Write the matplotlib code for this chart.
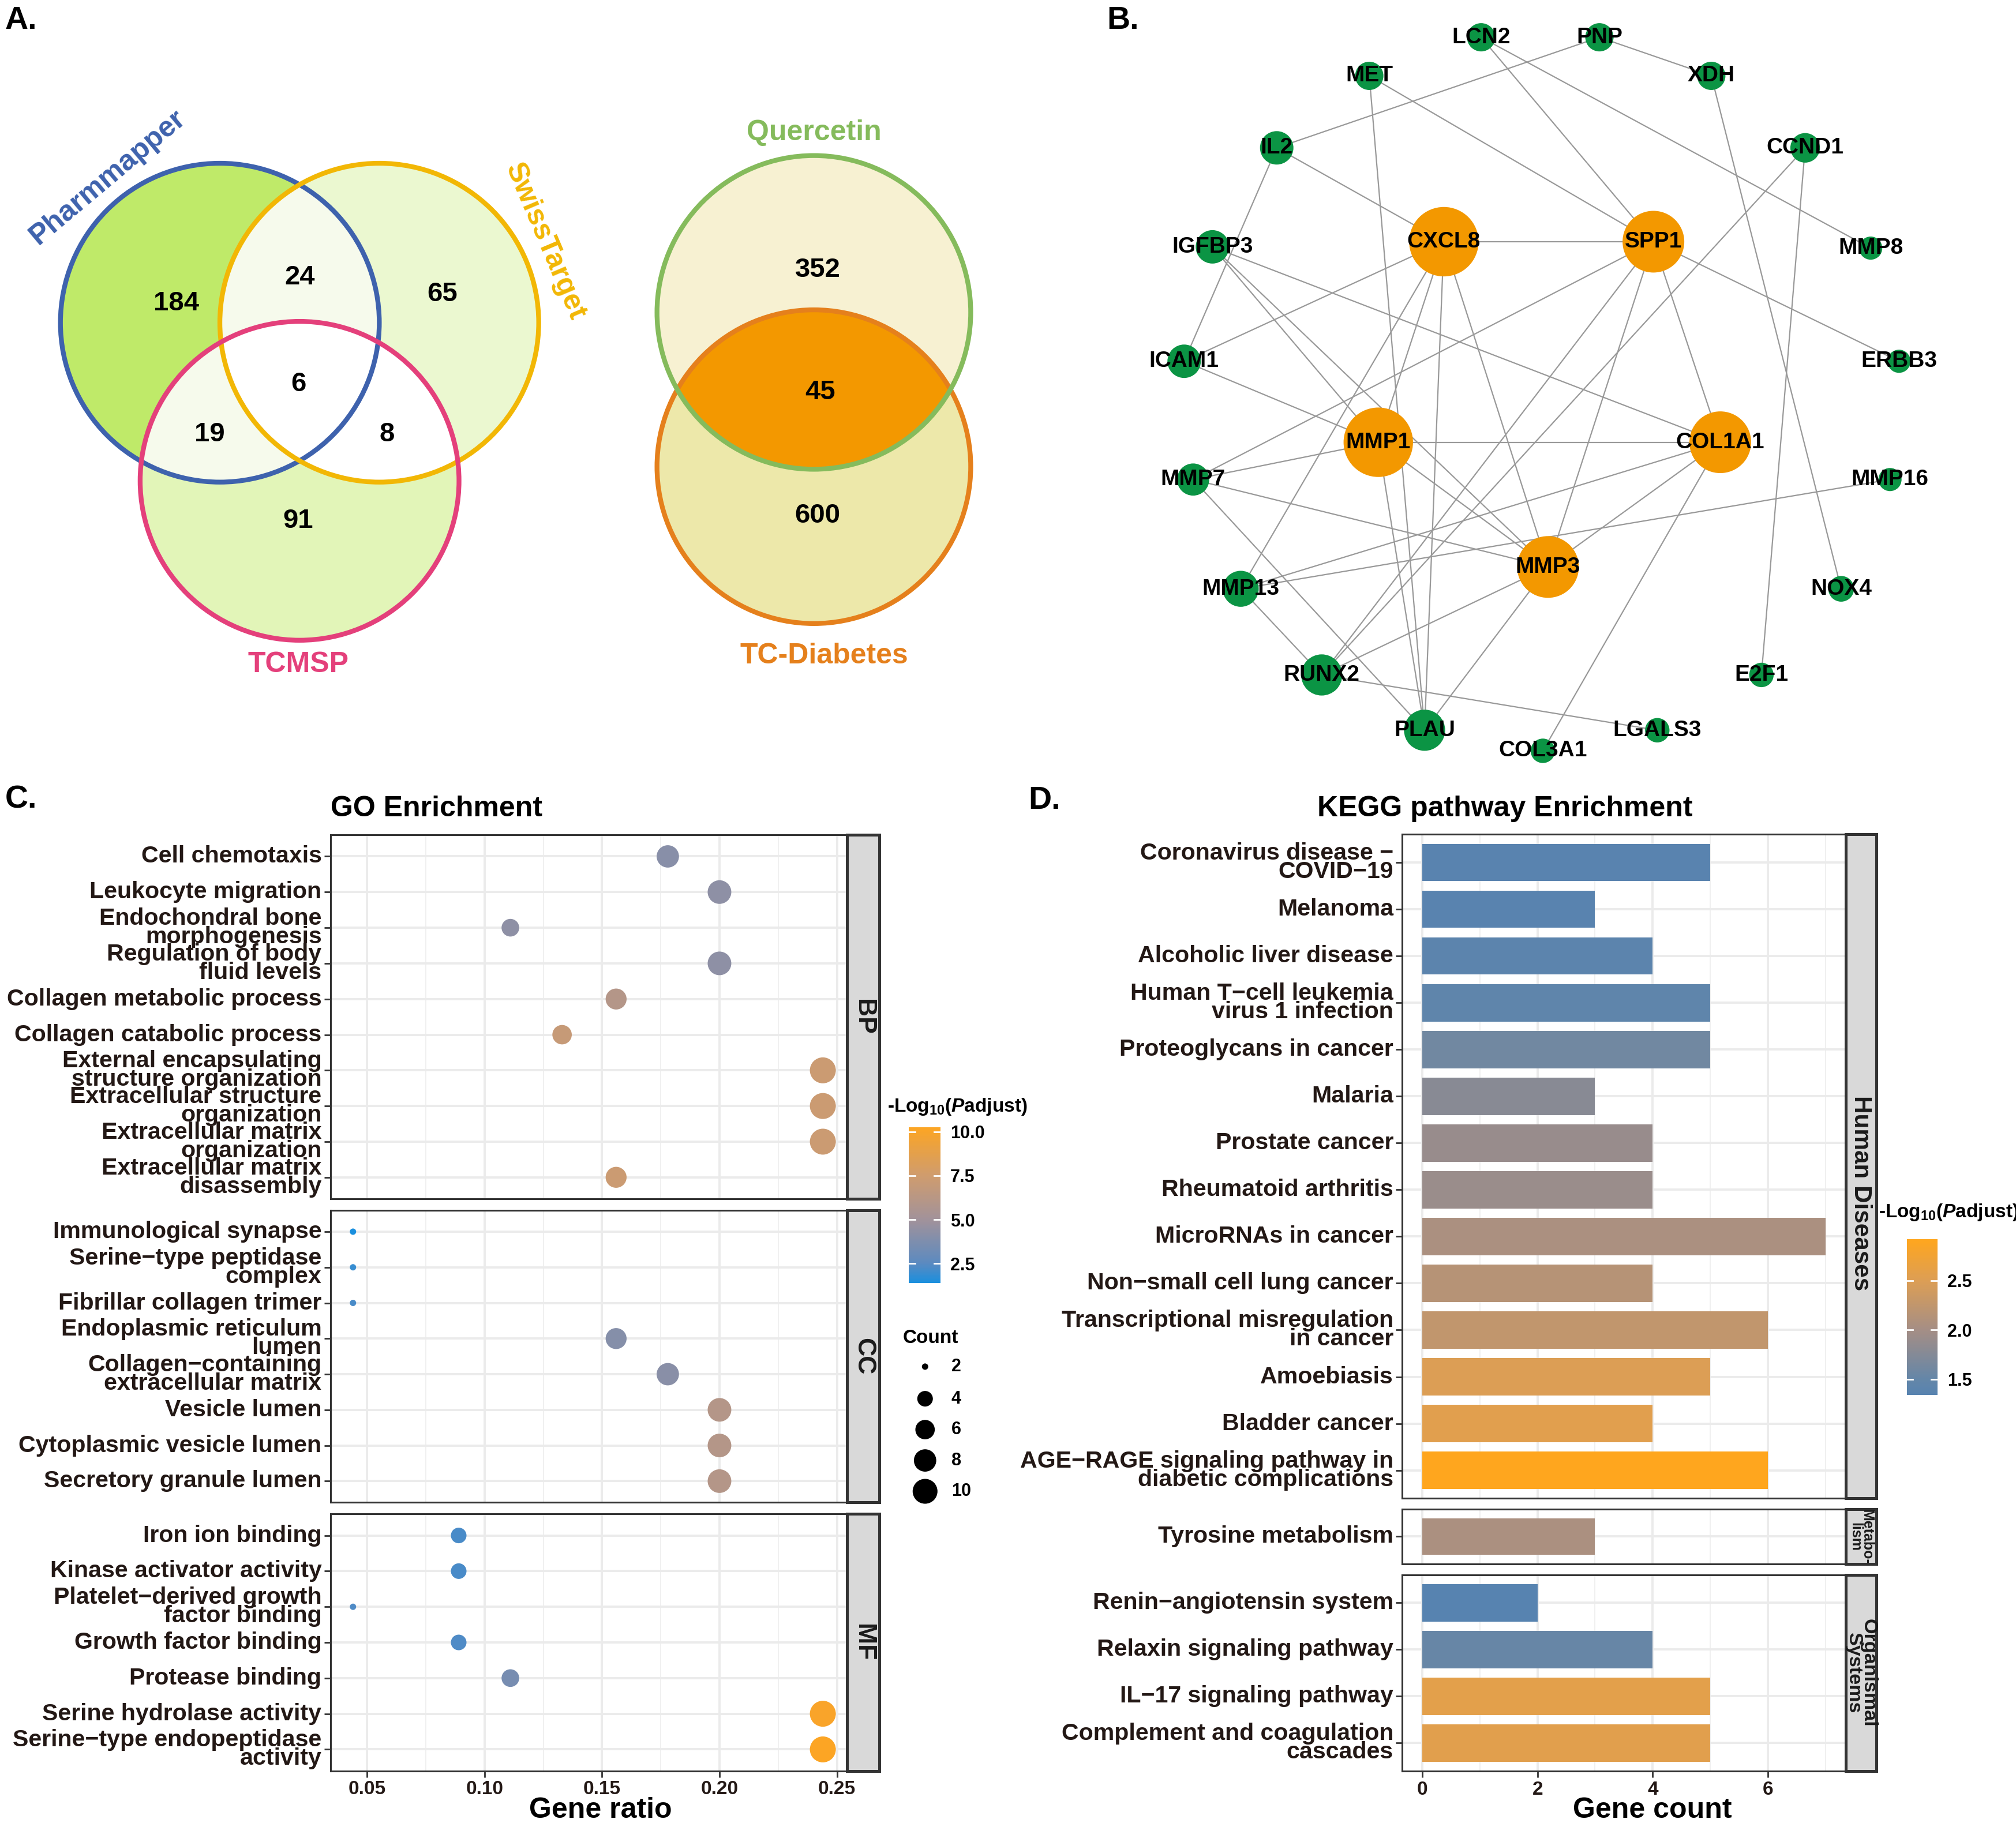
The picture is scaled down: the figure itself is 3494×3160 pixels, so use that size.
import numpy as np
import matplotlib
matplotlib.use("Agg")
import matplotlib.pyplot as plt
from matplotlib.patches import Circle
from matplotlib.colors import LinearSegmentedColormap, Normalize

plt.rcParams["font.family"] = ["Liberation Sans", "DejaVu Sans"]
plt.rcParams["mathtext.fontset"] = "custom"
plt.rcParams["mathtext.rm"] = "Liberation Sans:bold"
plt.rcParams["mathtext.it"] = "Liberation Sans:italic:bold"
plt.rcParams["mathtext.bf"] = "Liberation Sans:bold"

# ---- Data: Venn counts ----
venn3_names = ["Pharmmapper", "SwissTarget", "TCMSP"]
venn3_counts = {"100": 184, "110": 24, "010": 65, "111": 6, "101": 19, "011": 8, "001": 91}
venn2_names = ["Quercetin", "TC-Diabetes"]
venn2_counts = {"10": 352, "11": 45, "01": 600}

# ---- Data: PPI network ----
hub_genes = ["CXCL8", "SPP1", "MMP1", "COL1A1", "MMP3"]
other_genes = ["LCN2", "PNP", "MET", "XDH", "IL2", "CCND1", "IGFBP3", "MMP8", "ICAM1",
               "ERBB3", "MMP7", "MMP16", "MMP13", "NOX4", "RUNX2", "E2F1", "PLAU",
               "LGALS3", "COL3A1"]
edges = [
    ("PNP", "XDH"), ("PNP", "IL2"), ("LCN2", "SPP1"), ("LCN2", "MMP8"), ("MET", "SPP1"),
    ("MET", "PLAU"), ("XDH", "NOX4"), ("IL2", "CXCL8"), ("IL2", "ICAM1"), ("CCND1", "RUNX2"),
    ("CCND1", "E2F1"), ("IGFBP3", "MMP1"), ("IGFBP3", "MMP3"), ("IGFBP3", "COL1A1"),
    ("CXCL8", "SPP1"), ("CXCL8", "ICAM1"), ("CXCL8", "MMP1"), ("CXCL8", "MMP13"),
    ("CXCL8", "PLAU"), ("CXCL8", "MMP3"), ("SPP1", "ERBB3"), ("SPP1", "MMP7"),
    ("SPP1", "RUNX2"), ("SPP1", "MMP3"), ("SPP1", "COL1A1"), ("COL1A1", "MMP1"),
    ("COL1A1", "MMP13"), ("COL1A1", "MMP3"), ("COL1A1", "COL3A1"), ("MMP1", "ICAM1"),
    ("MMP1", "MMP7"), ("MMP1", "MMP3"), ("MMP1", "PLAU"), ("MMP7", "MMP3"), ("MMP7", "PLAU"),
    ("MMP13", "MMP16"), ("MMP13", "RUNX2"), ("MMP3", "RUNX2"), ("MMP3", "PLAU"),
    ("RUNX2", "LGALS3"),
]

# ---- Data: GO enrichment (top to bottom within each facet) ----
go_bp_terms = ["Cell chemotaxis", "Leukocyte migration", "Endochondral bone\nmorphogenesis",
               "Regulation of body\nfluid levels", "Collagen metabolic process",
               "Collagen catabolic process", "External encapsulating\nstructure organization",
               "Extracellular structure\norganization", "Extracellular matrix\norganization",
               "Extracellular matrix\ndisassembly"]
go_bp_ratio = [0.178, 0.200, 0.111, 0.200, 0.156, 0.133, 0.244, 0.244, 0.244, 0.156]
go_bp_count = [8, 9, 5, 9, 7, 6, 11, 11, 11, 7]
go_bp_logp = [4.1, 4.3, 4.3, 4.3, 6.0, 7.0, 7.3, 7.3, 7.3, 7.3]

go_cc_terms = ["Immunological synapse", "Serine\u2212type peptidase\ncomplex",
               "Fibrillar collagen trimer", "Endoplasmic reticulum\nlumen",
               "Collagen\u2212containing\nextracellular matrix", "Vesicle lumen",
               "Cytoplasmic vesicle lumen", "Secretory granule lumen"]
go_cc_ratio = [0.044, 0.044, 0.044, 0.156, 0.178, 0.200, 0.200, 0.200]
go_cc_count = [2, 2, 2, 7, 8, 9, 9, 9]
go_cc_logp = [1.39, 1.9, 2.2, 4.0, 4.15, 6.0, 6.0, 6.0]

go_mf_terms = ["Iron ion binding", "Kinase activator activity",
               "Platelet\u2212derived growth\nfactor binding", "Growth factor binding",
               "Protease binding", "Serine hydrolase activity",
               "Serine\u2212type endopeptidase\nactivity"]
go_mf_ratio = [0.089, 0.089, 0.044, 0.089, 0.111, 0.244, 0.244]
go_mf_count = [4, 4, 2, 4, 5, 11, 11]
go_mf_logp = [2.2, 2.2, 2.3, 2.3, 3.5, 10.0, 10.24]

# ---- Data: KEGG enrichment ----
kegg_hd_terms = ["Coronavirus disease \u2212\nCOVID\u221219", "Melanoma", "Alcoholic liver disease",
                 "Human T\u2212cell leukemia\nvirus 1 infection", "Proteoglycans in cancer",
                 "Malaria", "Prostate cancer", "Rheumatoid arthritis", "MicroRNAs in cancer",
                 "Non\u2212small cell lung cancer", "Transcriptional misregulation\nin cancer",
                 "Amoebiasis", "Bladder cancer",
                 "AGE\u2212RAGE signaling pathway in\ndiabetic complications"]
kegg_hd_count = [5, 3, 4, 5, 5, 3, 4, 4, 7, 4, 6, 5, 4, 6]
kegg_hd_logp = [1.37, 1.37, 1.40, 1.44, 1.60, 1.78, 1.90, 1.92, 2.05, 2.15, 2.25, 2.50, 2.55, 2.92]
kegg_me_terms = ["Tyrosine metabolism"]
kegg_me_count = [3]
kegg_me_logp = [2.05]
kegg_os_terms = ["Renin\u2212angiotensin system", "Relaxin signaling pathway",
                 "IL\u221217 signaling pathway", "Complement and coagulation\ncascades"]
kegg_os_count = [2, 4, 5, 5]
kegg_os_logp = [1.34, 1.52, 2.58, 2.56]

# ---- Figure / layout helpers (coordinates in a 1568 x 1418 page grid) ----
W, H = 1568, 1418
fig = plt.figure(figsize=(3494 / 200, 3160 / 200), dpi=200)


def add_box(x0, y0, x1, y1):
    return fig.add_axes([x0 / W, 1 - y1 / H, (x1 - x0) / W, (y1 - y0) / H])


ov = add_box(0, 0, W, H)
ov.set_xlim(0, W)
ov.set_ylim(H, 0)
ov.axis("off")

TXT = "#231815"

# panel letters
for lab, x, y in [("A.", 4, 16), ("B.", 861, 16), ("C.", 4, 622), ("D.", 800, 623)]:
    ov.text(x, y, lab, fontsize=20, fontweight="bold", ha="left", va="center")

# ---- Panel A: Venn diagrams ----
r3 = 124
cP, cS, cT = (171, 251), (295, 251), (233, 374)


def circ(c, r, **kw):
    p = Circle(c, r, transform=ov.transData, **kw)
    ov.add_patch(p)
    return p


clipP = Circle(cP, r3, transform=ov.transData)
clipS = Circle(cS, r3, transform=ov.transData)
circ(cT, r3, fc="#E2F5B8", ec="none")
circ(cS, r3, fc="#EBF8D0", ec="none")
circ(cP, r3, fc="#BFEA69", ec="none")
circ(cS, r3, fc="#F6FAEC", ec="none").set_clip_path(clipP)
circ(cT, r3, fc="#F6FAEC", ec="none").set_clip_path(clipP)
circ(cT, r3, fc="#FFFFFF", ec="none").set_clip_path(clipS)
circ(cP, r3, fc="none", ec="#3E62AD", lw=3)
circ(cS, r3, fc="none", ec="#F2B705", lw=3)
circ(cT, r3, fc="none", ec="#E4407B", lw=3)

v3_pos = {"100": (137, 236), "110": (233, 216), "010": (344, 229), "111": (232, 299),
          "101": (163, 338), "011": (301, 338), "001": (232, 405)}
for k, v in venn3_counts.items():
    ov.text(*v3_pos[k], str(v), fontsize=17, fontweight="bold", ha="center", va="center")
ov.text(84, 138, venn3_names[0], rotation=40, color="#3E62AD", fontsize=18,
        fontweight="bold", ha="center", va="center")
ov.text(424, 188, venn3_names[1], rotation=-67, color="#F2B705", fontsize=18,
        fontweight="bold", ha="center", va="center")
ov.text(232, 517, venn3_names[2], color="#E4407B", fontsize=18,
        fontweight="bold", ha="center", va="center")

r2 = 122
cQ, cD = (633, 243), (633, 363)
clipQ = Circle(cQ, r2, transform=ov.transData)
circ(cQ, r2, fc="#F7F1D2", ec="none")
circ(cD, r2, fc="#EDE8AA", ec="none")
circ(cD, r2, fc="#F39800", ec="none").set_clip_path(clipQ)
circ(cD, r2, fc="none", ec="#E5801C", lw=3)
circ(cQ, r2, fc="none", ec="#85BB5C", lw=3)
v2_pos = {"10": (636, 210), "11": (638, 305), "01": (636, 401)}
for k, v in venn2_counts.items():
    ov.text(*v2_pos[k], str(v), fontsize=17, fontweight="bold", ha="center", va="center")
ov.text(633, 103, venn2_names[0], color="#85BB5C", fontsize=18, fontweight="bold",
        ha="center", va="center")
ov.text(641, 510, venn2_names[1], color="#E5801C", fontsize=18, fontweight="bold",
        ha="center", va="center")

# ---- Panel B: network ----
node_xy = {
    "LCN2": (1152, 29), "PNP": (1244, 29), "MET": (1065, 59), "XDH": (1331, 59),
    "IL2": (993, 115), "CCND1": (1404, 115), "IGFBP3": (943, 192), "CXCL8": (1123, 188),
    "SPP1": (1286, 188), "MMP8": (1455, 193), "ICAM1": (921, 281), "ERBB3": (1477, 281),
    "MMP1": (1072, 344), "COL1A1": (1338, 344), "MMP7": (928, 373), "MMP16": (1470, 373),
    "MMP3": (1204, 441), "MMP13": (965, 458), "NOX4": (1432, 458), "RUNX2": (1028, 525),
    "E2F1": (1370, 525), "PLAU": (1108, 568), "LGALS3": (1289, 568), "COL3A1": (1200, 584),
}
node_r = {
    "CXCL8": 27, "MMP1": 27, "SPP1": 24, "COL1A1": 24, "MMP3": 24, "PLAU": 16, "RUNX2": 16,
    "MMP13": 14, "MMP7": 12.5, "IGFBP3": 13, "IL2": 13, "ICAM1": 13, "MET": 11, "LCN2": 11,
    "PNP": 11, "XDH": 11, "CCND1": 11.5, "MMP8": 9, "ERBB3": 9, "MMP16": 9, "NOX4": 10,
    "E2F1": 9.5, "LGALS3": 9.5, "COL3A1": 9.5,
}
for a, b in edges:
    (x1, y1), (x2, y2) = node_xy[a], node_xy[b]
    ov.plot([x1, x2], [y1, y2], color="#999999", lw=0.8, zorder=2)
for g in hub_genes + other_genes:
    col = "#F39800" if g in hub_genes else "#0B9444"
    circ(node_xy[g], node_r[g], fc=col, ec="none", zorder=3)
    ov.text(*node_xy[g], g, fontsize=14, fontweight="bold", ha="center", va="center", zorder=4)

# ---- Colour scales ----
go_all = go_bp_logp + go_cc_logp + go_mf_logp
go_norm = Normalize(min(go_all), max(go_all))
go_cmap = LinearSegmentedColormap.from_list(
    "go", [(0, "#1A8FDE"), (0.125, "#5B8AC0"), (0.41, "#A2929A"), (0.69, "#CF9C6E"), (1, "#FCA524")])
kegg_all = kegg_hd_logp + kegg_me_logp + kegg_os_logp
kegg_norm = Normalize(min(kegg_all), max(kegg_all))
kegg_cmap = LinearSegmentedColormap.from_list(
    "kegg", [(0, "#5783B0"), (0.1, "#6486A8"), (0.418, "#A58E85"), (0.734, "#DC9E55"), (1, "#FFA61E")])


def dot_size(c):
    d_px = 11 + 34 * np.sqrt((np.asarray(c, float) - 2) / 9)
    return (d_px * 72 / 200) ** 2


def style_panel(ax, n, xlim, xticks, xminor, bottom):
    ax.set_xlim(*xlim)
    ax.set_ylim(n - 0.4, -0.6)
    ax.set_xticks(xticks)
    ax.set_xticks(xminor, minor=True)
    ax.set_yticks(range(n))
    ax.set_axisbelow(True)
    ax.grid(which="major", color="#EBEBEB", lw=1.4)
    ax.grid(which="minor", axis="x", color="#F0F0F0", lw=0.7)
    for s in ax.spines.values():
        s.set_color("#333333")
        s.set_linewidth(1.1)
    ax.tick_params(which="major", length=4, width=1, color="#333333", pad=1.5)
    ax.tick_params(which="minor", length=0)
    if not bottom:
        ax.tick_params(axis="x", length=0, labelbottom=False)
    else:
        ax.tick_params(axis="x", labelsize=12, labelcolor=TXT, pad=2)


def set_terms(ax, terms):
    ax.set_yticklabels(terms, fontsize=14.8, fontweight="bold", color=TXT, linespacing=0.8)
    for t in ax.get_yticklabels():
        t.set_va("center")


def strip(x0, y0, x1, y1, text, size, ty=0.5):
    s = add_box(x0, y0, x1, y1)
    s.set_facecolor("#D9D9D9")
    s.set_xticks([])
    s.set_yticks([])
    for sp in s.spines.values():
        sp.set_color("#333333")
        sp.set_linewidth(1.8)
    s.text(0.5, ty, text, rotation=-90, ha="center", va="center", fontsize=size,
           fontweight="bold", color="#1A1A1A", linespacing=0.8, transform=s.transAxes)


# ---- Panel C: GO dot plot ----
go_facets = [
    ("BP", go_bp_terms, go_bp_ratio, go_bp_count, go_bp_logp, 649.5, 932.4),
    ("CC", go_cc_terms, go_cc_ratio, go_cc_count, go_cc_logp, 941.4, 1168.7),
    ("MF", go_mf_terms, go_mf_ratio, go_mf_count, go_mf_logp, 1177.7, 1377.4),
]
for i, (lab, terms, ratio, cnt, lp, y0, y1) in enumerate(go_facets):
    ax = add_box(257, y0, 659, y1)
    style_panel(ax, len(terms), (0.0344, 0.2544), [0.05, 0.10, 0.15, 0.20, 0.25],
                [0.075, 0.125, 0.175, 0.225], i == 2)
    if i == 2:
        ax.set_xticklabels(["0.05", "0.10", "0.15", "0.20", "0.25"], fontweight="bold")
    set_terms(ax, terms)
    ax.scatter(ratio, range(len(terms)), s=dot_size(cnt), c=lp, cmap=go_cmap, norm=go_norm,
               linewidths=0, zorder=3)
    strip(659, y0, 684, y1, lab, 16)

ov.text(339.5, 629, "GO Enrichment", fontsize=18, fontweight="bold", ha="center", va="center")
ov.text(467, 1408, "Gene ratio", fontsize=18, fontweight="bold", ha="center", va="center")

# GO legends
ov.text(690, 861, r"-Log$_{\mathrm{10}}$($\mathit{P}$adjust)", fontsize=12, fontweight="bold",
        ha="left", va="center")
cax = add_box(707, 877, 731.6, 998)
sm = plt.cm.ScalarMappable(norm=go_norm, cmap=go_cmap)
cb = fig.colorbar(sm, cax=cax, ticks=[2.5, 5.0, 7.5, 10.0])
cb.outline.set_visible(False)
cb.ax.tick_params(length=0, pad=6, labelsize=11)
cb.ax.set_yticklabels(["2.5", "5.0", "7.5", "10.0"], fontweight="bold")
for v in [2.5, 5.0, 7.5, 10.0]:
    cax.axhline(v, xmin=0, xmax=0.2, color="white", lw=1)
    cax.axhline(v, xmin=0.8, xmax=1, color="white", lw=1)

count_breaks = [2, 4, 6, 8, 10]
count_y = [1063, 1088, 1112, 1136, 1160]
ov.text(702, 1041, "Count", fontsize=12, fontweight="bold", ha="left", va="center")
ov.scatter([719.5] * 5, count_y, s=dot_size(count_breaks), color="black", linewidths=0)
for c, y in zip(count_breaks, count_y):
    ov.text(740, y, str(c), fontsize=11, fontweight="bold", ha="left", va="center")

# ---- Panel D: KEGG bar chart ----
kegg_facets = [
    ("Human Diseases", 15.2, 0.46, kegg_hd_terms, kegg_hd_count, kegg_hd_logp, 649, 1165.5),
    ("Metabo-\nlism", 9, 0.5, kegg_me_terms, kegg_me_count, kegg_me_logp, 1173.7, 1216.7),
    ("Organismal\nSystems", 12.3, 0.5, kegg_os_terms, kegg_os_count, kegg_os_logp, 1225, 1377.6),
]
for i, (lab, fs, ty, terms, cnt, lp, y0, y1) in enumerate(kegg_facets):
    ax = add_box(1090.6, y0, 1435.4, y1)
    style_panel(ax, len(terms), (-0.35, 7.35), [0, 2, 4, 6], [1, 3, 5, 7], i == 2)
    if i == 2:
        ax.set_xticklabels(["0", "2", "4", "6"], fontweight="bold")
    set_terms(ax, terms)
    ax.barh(range(len(terms)), cnt, height=0.8, color=kegg_cmap(kegg_norm(lp)), zorder=3)
    strip(1435.4, y0, 1459.5, y1, lab, fs, ty)

ov.text(1170.5, 629, "KEGG pathway Enrichment", fontsize=18, fontweight="bold",
        ha="center", va="center")
ov.text(1285, 1408, "Gene count", fontsize=18, fontweight="bold", ha="center", va="center")

ov.text(1461, 943, r"-Log$_{\mathrm{10}}$($\mathit{P}$adjust)", fontsize=12, fontweight="bold",
        ha="left", va="center")
kax = add_box(1483, 964, 1507, 1085)
sm2 = plt.cm.ScalarMappable(norm=kegg_norm, cmap=kegg_cmap)
cb2 = fig.colorbar(sm2, cax=kax, ticks=[1.5, 2.0, 2.5])
cb2.outline.set_visible(False)
cb2.ax.tick_params(length=0, pad=6, labelsize=11)
cb2.ax.set_yticklabels(["1.5", "2.0", "2.5"], fontweight="bold")
for v in [1.5, 2.0, 2.5]:
    kax.axhline(v, xmin=0, xmax=0.2, color="white", lw=1)
    kax.axhline(v, xmin=0.8, xmax=1, color="white", lw=1)

fig.savefig("out.png", dpi=200)
